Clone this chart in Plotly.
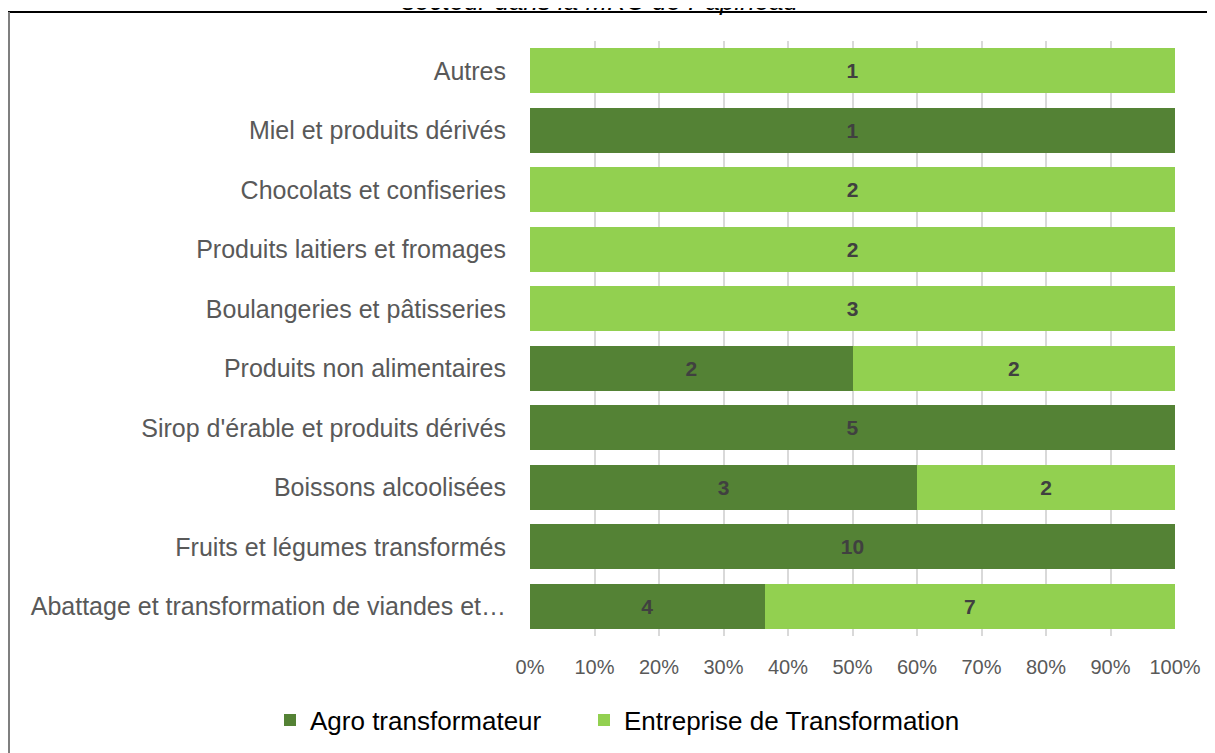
import plotly.graph_objects as go

categories = [
    "Abattage et transformation de viandes et…",
    "Fruits et légumes transformés",
    "Boissons alcoolisées",
    "Sirop d'érable et produits dérivés",
    "Produits non alimentaires",
    "Boulangeries et pâtisseries",
    "Produits laitiers et fromages",
    "Chocolats et confiseries",
    "Miel et produits dérivés",
    "Autres",
]
agro = [4, 10, 3, 5, 2, 0, 0, 0, 1, 0]
entreprise = [7, 0, 2, 0, 2, 3, 2, 2, 0, 1]
tick_vals = [0, 10, 20, 30, 40, 50, 60, 70, 80, 90, 100]
tick_text = [f"{v}%" for v in tick_vals]

# page has an 8px body margin: figure coordinates = page coordinates - 8
OFF = 8
W, H = 1215 - OFF, 753 - OFF
L, R, T, B = 530 - OFF, 40, 41 - OFF, 117
pw, ph = W - L - R, H - T - B

label_font = dict(family="Liberation Sans, Arial", size=21, color="#404040")


def px_x(px):
    return (px - OFF - L) / pw


def px_y(py):
    return 1 - (py - OFF - T) / ph


fig = go.Figure()
fig.add_trace(go.Bar(
    y=categories, x=agro, orientation="h", name="Agro transformateur",
    marker=dict(color="#548235", line=dict(width=0)),
    text=[str(v) if v else "" for v in agro], textposition="inside",
    insidetextanchor="middle", textfont=label_font,
    texttemplate="<b>%{text}</b>", legend="legend",
))
fig.add_trace(go.Bar(
    y=categories, x=entreprise, orientation="h", name="Entreprise de Transformation",
    marker=dict(color="#92d050", line=dict(width=0)),
    text=[str(v) if v else "" for v in entreprise], textposition="inside",
    insidetextanchor="middle", textfont=label_font,
    texttemplate="<b>%{text}</b>", legend="legend2",
))

legend_common = dict(
    orientation="h", xref="container", xanchor="left",
    yref="container", y=1 - (720 - OFF) / H, yanchor="middle",
    font=dict(family="Liberation Sans, Arial", size=26, color="#000000"),
    bgcolor="rgba(0,0,0,0)",
)

fig.update_layout(
    width=W, height=H,
    barmode="stack", barnorm="percent", bargap=0.25,
    margin=dict(l=L, r=R, t=T, b=B, autoexpand=False),
    paper_bgcolor="white", plot_bgcolor="white",
    font=dict(family="Liberation Sans, Arial", color="#595959"),
    xaxis=dict(
        range=[0, 100], tickvals=tick_vals, ticktext=tick_text,
        showgrid=True, gridcolor="#d9d9d9", gridwidth=1.5,
        zeroline=False, showline=False,
        ticks="outside", ticklen=13, tickcolor="rgba(0,0,0,0)",
        tickfont=dict(family="Liberation Sans, Arial", size=20, color="#595959"),
    ),
    yaxis=dict(
        showgrid=False, zeroline=False, showline=False,
        ticks="outside", ticklen=18, tickcolor="rgba(0,0,0,0)",
        tickfont=dict(family="Liberation Sans, Arial", size=25, color="#595959"),
        automargin=False,
    ),
    legend=dict(legend_common, x=(270 - OFF) / W),
    legend2=dict(legend_common, x=(584 - OFF) / W),
    showlegend=True,
    shapes=[
        dict(type="line", xref="paper", yref="paper",
             x0=px_x(8), x1=px_x(1230), y0=px_y(12), y1=px_y(12),
             line=dict(color="#000000", width=2)),
        dict(type="line", xref="paper", yref="paper",
             x0=px_x(9), x1=px_x(9), y0=px_y(12), y1=px_y(770),
             line=dict(color="#7f7f7f", width=2)),
    ],
    annotations=[
        dict(text="<i>secteur dans la MRC de Papineau</i>", xref="paper", yref="paper",
             x=px_x(600), y=px_y(18), xanchor="center", yanchor="bottom",
             showarrow=False, font=dict(family="Liberation Sans, Arial", size=26, color="#000000")),
    ],
)

fig.write_html("out.html")
